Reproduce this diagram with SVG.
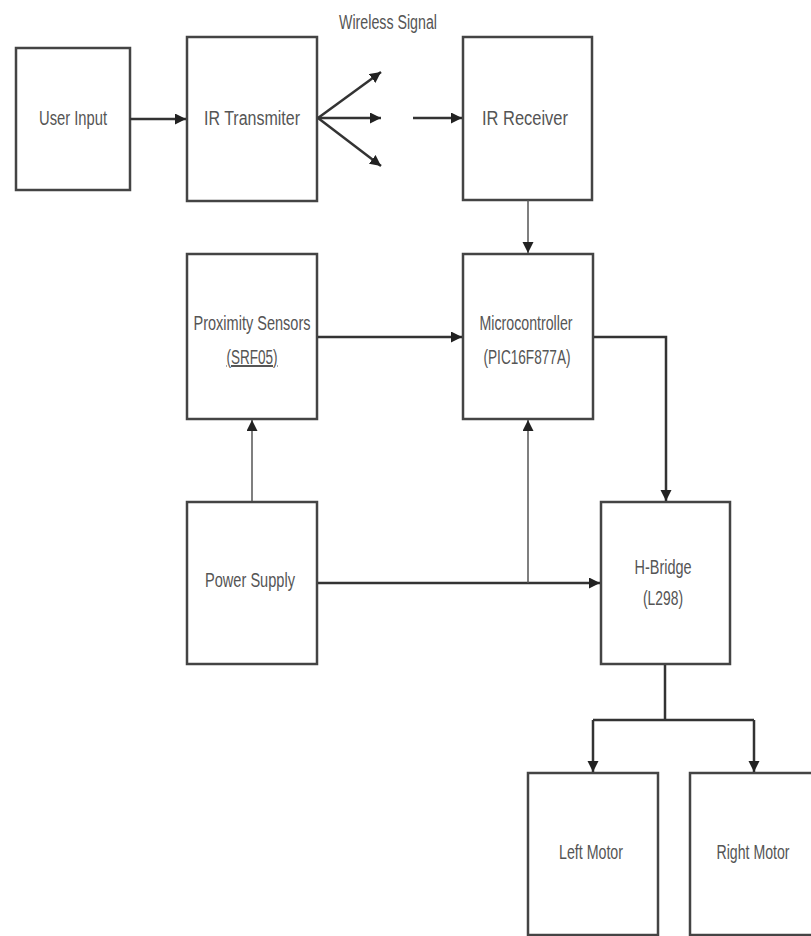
<svg xmlns="http://www.w3.org/2000/svg" width="811" height="936" viewBox="0 0 811 936">
<style>
.box{fill:#fff;stroke:#444;stroke-width:2.5}
.t{font-family:"Liberation Sans",Arial,sans-serif;font-size:20px;fill:#555;text-anchor:middle}
.c{fill:none;stroke:#333;stroke-width:2.5}
.thin{fill:none;stroke:#555;stroke-width:1.5}
</style>
<defs>
<marker id="ah" markerUnits="userSpaceOnUse" markerWidth="12" markerHeight="12" refX="11" refY="5.5" orient="auto">
<path d="M0,0 L11,5.5 L0,11 z" fill="#222"/>
</marker>
</defs>
<rect width="811" height="936" fill="#fff"/>
<text class="t" x="388" y="29" textLength="98" lengthAdjust="spacingAndGlyphs">Wireless Signal</text>
<g id="user-input"><rect class="box" x="16" y="48" width="114" height="142"/><text class="t" x="73" y="125" textLength="68" lengthAdjust="spacingAndGlyphs">User Input</text></g>
<g id="ir-transmitter"><rect class="box" x="187" y="37" width="130" height="164"/><text class="t" x="252" y="125" textLength="96" lengthAdjust="spacingAndGlyphs">IR Transmiter</text></g>
<g id="ir-receiver"><rect class="box" x="463" y="37" width="129" height="163"/><text class="t" x="525" y="125" textLength="86" lengthAdjust="spacingAndGlyphs">IR Receiver</text></g>
<g id="proximity"><rect class="box" x="187" y="254" width="130" height="165"/><text class="t" x="252" y="330" textLength="117" lengthAdjust="spacingAndGlyphs">Proximity Sensors</text><text class="t" x="252" y="364" textLength="51" lengthAdjust="spacingAndGlyphs" text-decoration="underline">(SRF05)</text></g>
<g id="microcontroller"><rect class="box" x="463" y="254" width="130" height="165"/><text class="t" x="526" y="330" textLength="93" lengthAdjust="spacingAndGlyphs">Microcontroller</text><text class="t" x="527" y="364" textLength="87" lengthAdjust="spacingAndGlyphs">(PIC16F877A)</text></g>
<g id="power-supply"><rect class="box" x="187" y="502" width="130" height="162"/><text class="t" x="250" y="587" textLength="90" lengthAdjust="spacingAndGlyphs">Power Supply</text></g>
<g id="h-bridge"><rect class="box" x="601" y="502" width="129" height="162"/><text class="t" x="663" y="574" textLength="57" lengthAdjust="spacingAndGlyphs">H-Bridge</text><text class="t" x="663" y="605" textLength="40" lengthAdjust="spacingAndGlyphs">(L298)</text></g>
<g id="left-motor"><rect class="box" x="528" y="773" width="130" height="162"/><text class="t" x="591" y="859" textLength="64" lengthAdjust="spacingAndGlyphs">Left Motor</text></g>
<g id="right-motor"><rect class="box" x="690" y="773" width="130" height="162"/><text class="t" x="753" y="859" textLength="73" lengthAdjust="spacingAndGlyphs">Right Motor</text></g>
<g id="connectors">
<path class="c" d="M130,119 H186" marker-end="url(#ah)"/>
<path class="c" d="M318,118 L381,72" marker-end="url(#ah)"/>
<path class="c" d="M318,118 H381" marker-end="url(#ah)"/>
<path class="c" d="M318,118 L381,166" marker-end="url(#ah)"/>
<path class="c" d="M413,118 H462" marker-end="url(#ah)"/>
<path class="thin" d="M528,200 V253" marker-end="url(#ah)"/>
<path class="c" d="M318,337 H462" marker-end="url(#ah)"/>
<path class="c" d="M594,337 H666 V501" marker-end="url(#ah)"/>
<path class="thin" d="M252,501 V420" marker-end="url(#ah)"/>
<path class="c" d="M318,583 H600" marker-end="url(#ah)"/>
<path class="thin" d="M528,583 V420" marker-end="url(#ah)"/>
<path class="c" d="M665,665 V720"/>
<path class="c" d="M593,720 H754"/>
<path class="c" d="M593,720 V772" marker-end="url(#ah)"/>
<path class="c" d="M754,720 V772" marker-end="url(#ah)"/>
</g>
</svg>
